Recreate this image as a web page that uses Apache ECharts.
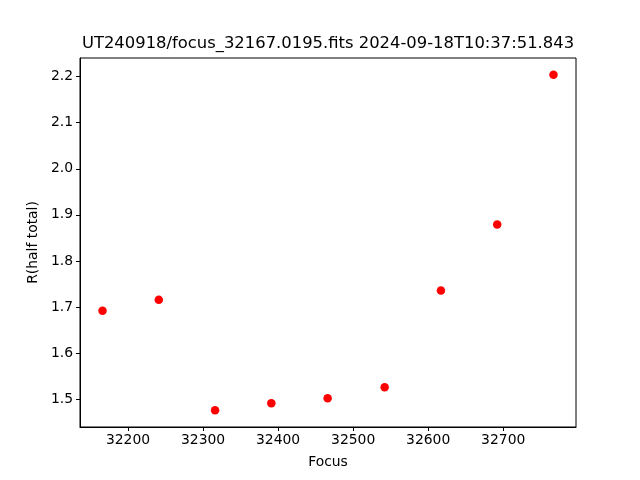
<!DOCTYPE html>
<html><head><meta charset="utf-8">
<script src="https://cdn.jsdelivr.net/npm/echarts@6/dist/echarts.min.js"></script>
<style>html,body{margin:0;padding:0;background:#fff}#c{width:640px;height:480px}</style>
</head><body><div id="c"></div>
<script>
const titleText = 'UT240918/focus_32167.0195.fits 2024-09-18T10:37:51.843';
const focusValues = [32166, 32241, 32316, 32391, 32466, 32542, 32617, 32692, 32767];
const rValues = [1.692, 1.716, 1.476, 1.491, 1.502, 1.526, 1.736, 1.879, 2.204];
const xTicks = [32200, 32300, 32400, 32500, 32600, 32700];
const yTicks = [1.5, 1.6, 1.7, 1.8, 1.9, 2.0, 2.1, 2.2];
const xLabel = 'Focus';
const yLabel = 'R(half total)';

const xMin = 32136, xMax = 32797;
const yMin = 1.4396, yMax = 2.2404;
const font = 'DejaVu Sans';
const chart = echarts.init(document.getElementById('c'), null, {renderer: 'canvas'});
chart.setOption({
  animation: false,
  backgroundColor: '#fff',
  graphic: [{type: 'text', left: null, x: 328, y: 44,
    style: {text: titleText, fill: '#000', font: '16.4px "DejaVu Sans"', textAlign: 'center', textVerticalAlign: 'middle'}}],
  grid: {left: 80, right: 64, top: 58, bottom: 53, show: true, borderColor: '#000', borderWidth: 1, backgroundColor: 'transparent'},
  xAxis: {type: 'value', min: xMin, max: xMax,
    name: xLabel, nameLocation: 'middle', nameGap: 28,
    nameTextStyle: {fontFamily: font, fontSize: 13.9, color: '#000'},
    axisLine: {show: true, onZero: false, lineStyle: {color: '#000', width: 1}},
    axisTick: {show: true, inside: false, length: 4, customValues: xTicks, lineStyle: {color: '#000'}},
    axisLabel: {customValues: xTicks, fontFamily: font, fontSize: 13.9, color: '#000', margin: 6,
      formatter: v => String(Math.round(v))},
    splitLine: {show: false}},
  yAxis: {type: 'value', min: yMin, max: yMax,
    name: yLabel, nameLocation: 'middle', nameGap: 39, nameRotate: 90,
    nameTextStyle: {fontFamily: font, fontSize: 13.9, color: '#000'},
    axisLine: {show: true, onZero: false, lineStyle: {color: '#000', width: 1}},
    axisTick: {show: true, inside: false, length: 4, customValues: yTicks, lineStyle: {color: '#000'}},
    axisLabel: {customValues: yTicks, fontFamily: font, fontSize: 13.9, color: '#000', margin: 7,
      formatter: v => v.toFixed(1)},
    splitLine: {show: false}},
  series: [{type: 'scatter', symbol: 'circle', symbolSize: 8.5,
    itemStyle: {color: '#ff0000', opacity: 1},
    data: focusValues.map((f, i) => [f, rValues[i]])}]
});
</script></body></html>
